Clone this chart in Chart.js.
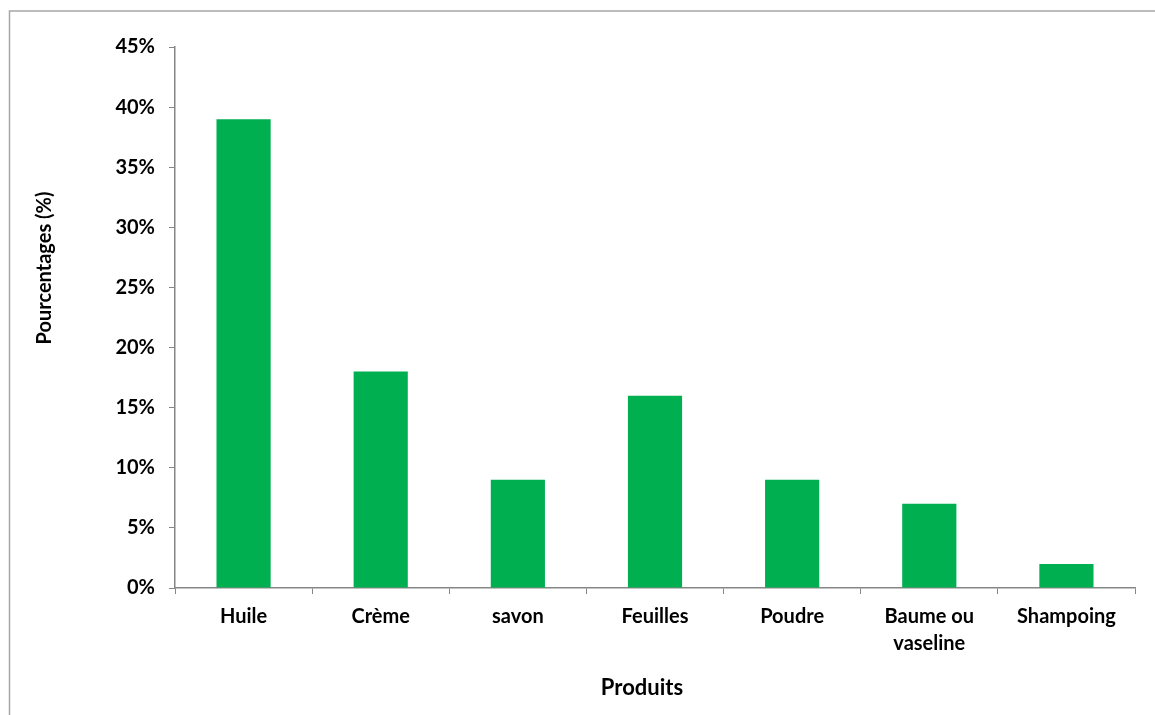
<!DOCTYPE html>
<html>
<head>
<meta charset="utf-8">
<script src="https://cdn.jsdelivr.net/npm/chart.js@4"></script>
<style>
  html, body { margin: 0; padding: 0; background: #fff; }
  #wrap { width: 1155px; height: 715px; position: relative; }
</style>
</head>
<body>
<div id="wrap"><canvas id="chart"></canvas></div>
<script>
const produits = ["Huile", "Crème", "savon", "Feuilles", "Poudre", ["Baume ou", "vaseline"], "Shampoing"];
const pourcentages = [39, 18, 9, 16, 9, 7, 2];
const yTicks = [0, 5, 10, 15, 20, 25, 30, 35, 40, 45];

const FONT = "Lato, 'Open Sans', sans-serif";
const AXIS_GREY = "#868686";

// frame line along the top and left edge, plus the two axis titles
const framePlugin = {
  id: "frame",
  beforeDraw(chart) {
    const ctx = chart.ctx;
    ctx.save();
    ctx.strokeStyle = "#a6a6a6";
    ctx.lineWidth = 1.5;
    ctx.beginPath();
    ctx.moveTo(9.5, 715);
    ctx.lineTo(9.5, 11);
    ctx.lineTo(1155, 11);
    ctx.stroke();
    ctx.restore();
  },
  afterDraw(chart) {
    const ctx = chart.ctx;
    ctx.save();
    ctx.fillStyle = "#000";
    ctx.textAlign = "center";
    ctx.textBaseline = "middle";
    ctx.font = "bold 22px " + FONT;
    ctx.fillText("Produits", 642, 688);
    ctx.translate(45, 268);
    ctx.rotate(-Math.PI / 2);
    ctx.font = "bold 20px " + FONT;
    ctx.fillText("Pourcentages (%)", 0, 0);
    ctx.restore();
  }
};

new Chart(document.getElementById("chart"), {
  type: "bar",
  data: {
    labels: produits,
    datasets: [{
      data: pourcentages,
      backgroundColor: "#00b050",
      borderWidth: 0,
      categoryPercentage: 1,
      barPercentage: 0.395,
    }],
  },
  options: {
    responsive: true,
    maintainAspectRatio: false,
    animation: false,
    layout: { padding: { top: 47, right: 20, left: 0, bottom: 0 } },
    plugins: {
      legend: { display: false },
      tooltip: { enabled: false },
    },
    scales: {
      x: {
        afterFit(scale) { scale.height = 127; },
        grid: {
          offset: true,
          drawOnChartArea: false,
          drawTicks: true,
          tickLength: 6,
          color: AXIS_GREY,
        },
        border: { color: AXIS_GREY, width: 1.5 },
        ticks: {
          color: "#000",
          padding: 9,
          maxRotation: 0,
          autoSkip: false,
          font: { family: FONT, size: 20, weight: "bold", lineHeight: 1.35 },
        },
      },
      y: {
        min: 0,
        max: 45,
        afterFit(scale) { scale.width = 175; },
        afterBuildTicks(scale) { scale.ticks = yTicks.map(v => ({ value: v })); },
        grid: {
          drawOnChartArea: false,
          drawTicks: true,
          tickLength: 6,
          color: AXIS_GREY,
        },
        border: { color: AXIS_GREY, width: 1.5 },
        ticks: {
          color: "#000",
          padding: 14,
          callback: v => v + "%",
          font: { family: FONT, size: 20, weight: "bold" },
        },
      },
    },
  },
  plugins: [framePlugin],
});
</script>
</body>
</html>
